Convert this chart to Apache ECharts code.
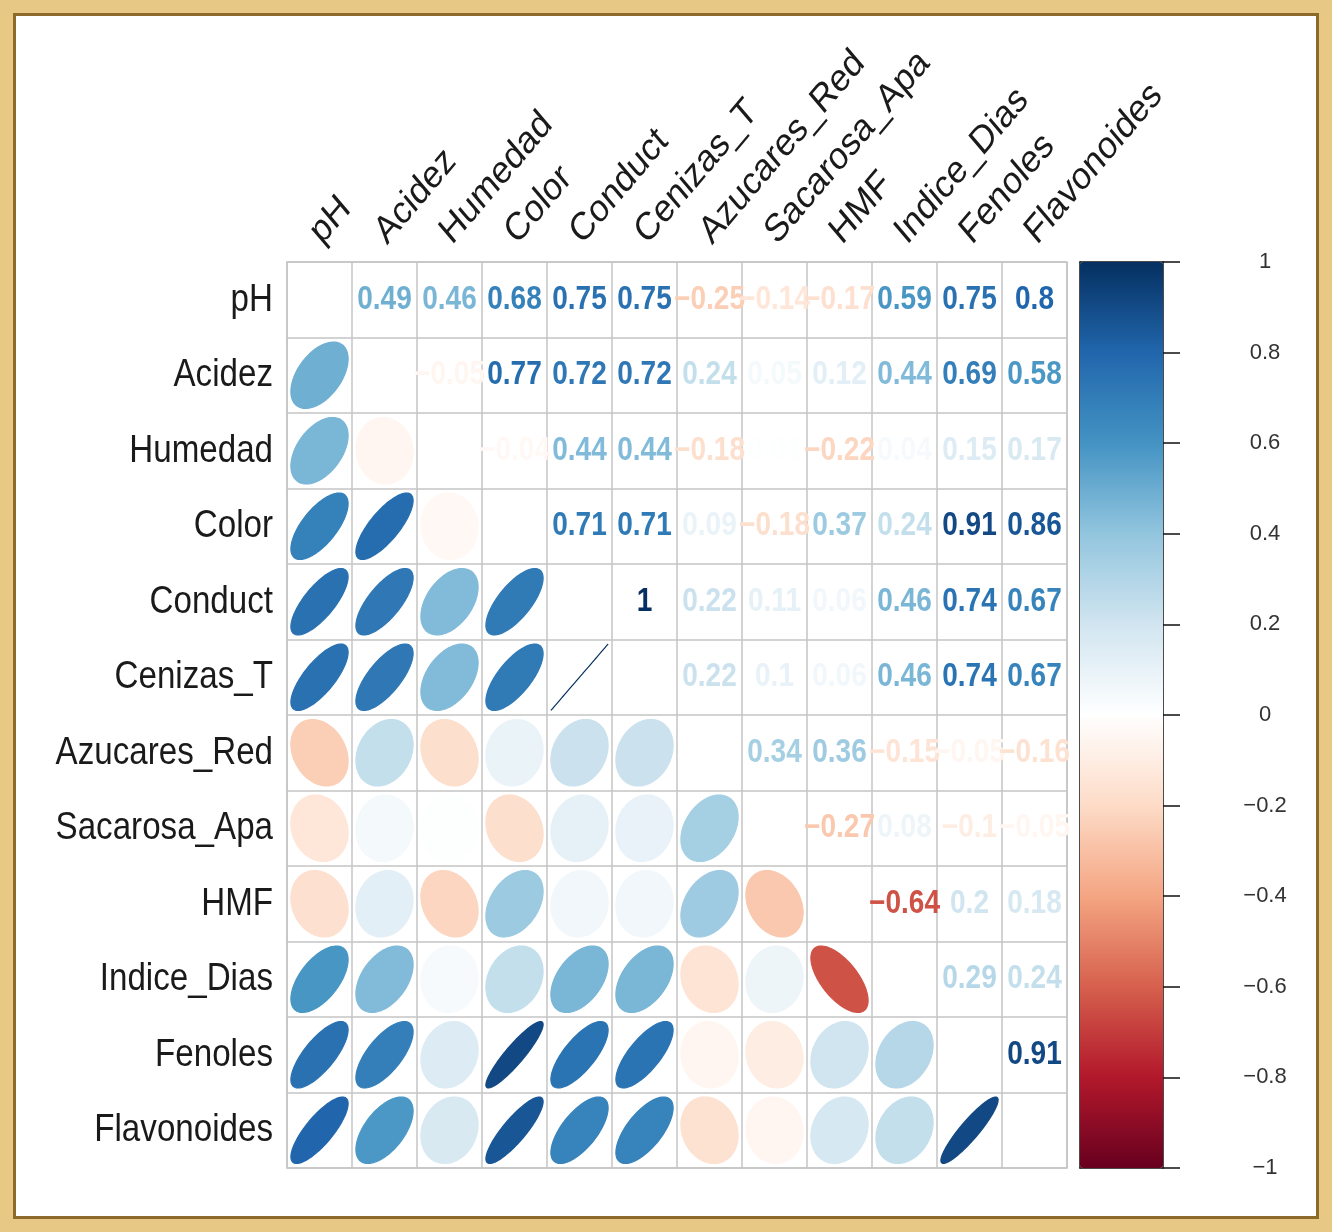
<!DOCTYPE html>
<html>
<head>
<meta charset="UTF-8">
<title>Correlaciones</title>
<script src="https://cdn.jsdelivr.net/npm/echarts@6/dist/echarts.min.js"></script>
<style>
  html, body { margin: 0; padding: 0; }
  body { width: 1332px; height: 1232px; background: #e8c885; position: relative; overflow: hidden; }
  #panel { position: absolute; left: 13px; top: 13px; width: 1300px; height: 1200px; background: #fff; border: 3px solid #8d6a2c; }
  #main { position: absolute; left: 0; top: 0; width: 1332px; height: 1232px; }
</style>
</head>
<body>
<div id="panel"></div>
<div id="main"></div>
<script>
// variables (same order on both axes)
var vars = ['pH', 'Acidez', 'Humedad', 'Color', 'Conduct', 'Cenizas_T', 'Azucares_Red',
            'Sacarosa_Apa', 'HMF', 'Indice_Dias', 'Fenoles', 'Flavonoides'];

// correlation rows
var rPH       = [1, 0.49, 0.46, 0.68, 0.75, 0.75, -0.25, -0.14, -0.17, 0.59, 0.75, 0.8];
var rAcidez   = [0.49, 1, -0.05, 0.77, 0.72, 0.72, 0.24, 0.05, 0.12, 0.44, 0.69, 0.58];
var rHumedad  = [0.46, -0.05, 1, -0.04, 0.44, 0.44, -0.18, 0.01, -0.22, 0.04, 0.15, 0.17];
var rColor    = [0.68, 0.77, -0.04, 1, 0.71, 0.71, 0.09, -0.18, 0.37, 0.24, 0.91, 0.86];
var rConduct  = [0.75, 0.72, 0.44, 0.71, 1, 1, 0.22, 0.11, 0.06, 0.46, 0.74, 0.67];
var rCenizas  = [0.75, 0.72, 0.44, 0.71, 1, 1, 0.22, 0.1, 0.06, 0.46, 0.74, 0.67];
var rAzucares = [-0.25, 0.24, -0.18, 0.09, 0.22, 0.22, 1, 0.34, 0.36, -0.15, -0.05, -0.16];
var rSacarosa = [-0.14, 0.05, 0.01, -0.18, 0.11, 0.1, 0.34, 1, -0.27, 0.08, -0.1, -0.05];
var rHMF      = [-0.17, 0.12, -0.22, 0.37, 0.06, 0.06, 0.36, -0.27, 1, -0.64, 0.2, 0.18];
var rIndice   = [0.59, 0.44, 0.04, 0.24, 0.46, 0.46, -0.15, 0.08, -0.64, 1, 0.29, 0.24];
var rFenoles  = [0.75, 0.69, 0.15, 0.91, 0.74, 0.74, -0.05, -0.1, 0.2, 0.29, 1, 0.91];
var rFlavon   = [0.8, 0.58, 0.17, 0.86, 0.67, 0.67, -0.16, -0.05, 0.18, 0.24, 0.91, 1];

// RdBu palette (corrplot default)
var rdbu = ['#67001F', '#B2182B', '#D6604D', '#F4A582', '#FDDBC7', '#FFFFFF',
            '#D1E5F0', '#92C5DE', '#4393C3', '#2166AC', '#053061'];

var rows = [rPH, rAcidez, rHumedad, rColor, rConduct, rCenizas, rAzucares,
            rSacarosa, rHMF, rIndice, rFenoles, rFlavon];

var lower = [], upper = [];
rows.forEach(function (row, i) {
  row.forEach(function (v, j) {
    if (j < i) lower.push([j, i, v]);
    else if (j > i) upper.push([j, i, v]);
  });
});
var rowLabels = vars.map(function (v, i) { return [0, i]; });
var colLabels = vars.map(function (v, i) { return [i, 0]; });

function fmt(v) {
  var s = String(parseFloat(v.toFixed(2)));
  return s.replace('-', '\u2212');
}

var FONT = '"Liberation Sans", Arial, sans-serif';
var SQ = 0.85; // the picture is squeezed horizontally

function renderEllipse(params, api) {
  var c = api.coord([api.value(0), api.value(1)]);
  var s = api.size([1, 1]);
  var r = api.value(2);
  var a = Math.acos(Math.max(-1, Math.min(1, r)));
  var pts = [];
  for (var k = 0; k < 99; k++) {
    var t = 2 * Math.PI * k / 98;
    pts.push([c[0] + 0.88 * s[0] * Math.cos(t + a / 2) / 2,
              c[1] - 0.88 * s[1] * Math.cos(t - a / 2) / 2]);
  }
  var col = api.visual('color');
  return {
    type: 'polygon',
    shape: { points: pts },
    style: { fill: col, stroke: col, lineWidth: 1.2 }
  };
}

function renderNumber(params, api) {
  var c = api.coord([api.value(0), api.value(1)]);
  return {
    type: 'text',
    x: c[0],
    y: c[1],
    scaleX: SQ,
    style: {
      text: fmt(api.value(2)),
      fill: api.visual('color'),
      font: 'bold 33px ' + FONT,
      align: 'center',
      verticalAlign: 'middle'
    }
  };
}

function renderRowLabel(params, api) {
  var c = api.coord([0, api.value(1)]);
  var s = api.size([1, 1]);
  return {
    type: 'text',
    x: c[0] - s[0] / 2 - 14,
    y: c[1],
    scaleX: SQ,
    style: {
      text: vars[params.dataIndex],
      fill: '#1a1a1a',
      font: '39px ' + FONT,
      align: 'right',
      verticalAlign: 'middle'
    }
  };
}

function renderColLabel(params, api) {
  var c = api.coord([api.value(0), 0]);
  var s = api.size([1, 1]);
  return {
    type: 'group',
    x: c[0] - 4,
    y: c[1] - s[1] / 2 - 24,
    scaleX: SQ,
    children: [{
      type: 'text',
      rotation: Math.PI / 4,
      style: {
        text: vars[params.dataIndex],
        fill: '#1a1a1a',
        font: '39px ' + FONT,
        align: 'left',
        verticalAlign: 'middle'
      }
    }]
  };
}

var chart = echarts.init(document.getElementById('main'));
chart.setOption({
  backgroundColor: 'transparent',
  animation: false,
  grid: [
    { left: 287, top: 262, width: 780, height: 906, show: true,
      borderColor: '#c4c4c4', borderWidth: 1.5, backgroundColor: 'transparent' },
    { left: 1080, top: 262, width: 83, height: 906, show: false }
  ],
  xAxis: [
    {
      type: 'category', data: vars, position: 'top', gridIndex: 0,
      axisLine: { show: false }, axisTick: { show: false }, axisLabel: { show: false },
      splitLine: { show: true, interval: 0, lineStyle: { color: '#c4c4c4', width: 1.5 } }
    },
    {
      type: 'value', gridIndex: 1, min: 0, max: 1, position: 'bottom',
      axisLine: { show: true, onZero: false, lineStyle: { color: '#111', width: 1.5 } },
      axisTick: { show: false }, axisLabel: { show: false }, splitLine: { show: false }
    },
    {
      type: 'value', gridIndex: 1, min: 0, max: 1, position: 'top',
      axisLine: { show: true, onZero: false, lineStyle: { color: '#111', width: 1.5 } },
      axisTick: { show: false }, axisLabel: { show: false }, splitLine: { show: false }
    }
  ],
  yAxis: [
    {
      type: 'category', data: vars, inverse: true, gridIndex: 0,
      axisLine: { show: false }, axisTick: { show: false }, axisLabel: { show: false },
      splitLine: { show: true, interval: 0, lineStyle: { color: '#c4c4c4', width: 1.5 } }
    },
    {
      type: 'value', gridIndex: 1, position: 'right', min: -1, max: 1, interval: 0.2,
      axisLine: { show: true, onZero: false, lineStyle: { color: '#111', width: 1.5 } },
      axisTick: { show: true, length: 17, lineStyle: { color: '#111', width: 1.5 } },
      splitLine: { show: false },
      axisLabel: {
        margin: 102, align: 'center', color: '#333', fontFamily: FONT, fontSize: 22,
        formatter: function (v) { return String(Math.round(v * 10) / 10).replace('-', '\u2212'); }
      }
    },
    {
      type: 'value', gridIndex: 1, position: 'left', min: -1, max: 1,
      axisLine: { show: true, onZero: false, lineStyle: { color: '#111', width: 1.5 } },
      axisTick: { show: false }, axisLabel: { show: false }, splitLine: { show: false }
    }
  ],
  visualMap: {
    type: 'continuous', min: -1, max: 1, dimension: 2, seriesIndex: [0, 1],
    inRange: { color: rdbu }, calculable: false, hoverLink: false,
    left: 1080, top: 262, itemWidth: 83, itemHeight: 906, padding: 0,
    text: null, showLabel: false, orient: 'vertical', z: 1
  },
  series: [
    { type: 'custom', coordinateSystem: 'cartesian2d', xAxisIndex: 0, yAxisIndex: 0,
      renderItem: renderEllipse, data: lower, z: 3 },
    { type: 'custom', coordinateSystem: 'cartesian2d', xAxisIndex: 0, yAxisIndex: 0,
      renderItem: renderNumber, data: upper, z: 3 },
    { type: 'custom', coordinateSystem: 'cartesian2d', xAxisIndex: 0, yAxisIndex: 0,
      renderItem: renderRowLabel, data: rowLabels, z: 3, silent: true },
    { type: 'custom', coordinateSystem: 'cartesian2d', xAxisIndex: 0, yAxisIndex: 0,
      renderItem: renderColLabel, data: colLabels, z: 3, silent: true }
  ]
});
</script>
</body>
</html>
